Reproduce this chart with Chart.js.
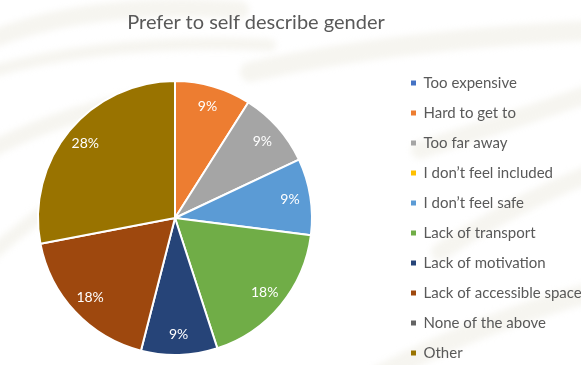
<!DOCTYPE html>
<html lang="en">
<head>
<meta charset="UTF-8">
<title>Prefer to self describe gender</title>
<script src="https://cdn.jsdelivr.net/npm/chart.js"></script>
<style>
  html, body { margin: 0; padding: 0; background: #fff; overflow: hidden; }
  .chart-box { position: relative; width: 581px; height: 365px; overflow: hidden; }
  /* canvas runs a little past the left and bottom edges so the pie sits where it should */
  .chart-box canvas { position: absolute; left: -46px; top: 0; }
  .chart-title {
    position: absolute; top: 9px; left: 0; width: 512px; z-index: 1;
    text-align: center; font-family: Lato, sans-serif; font-size: 20px; color: #595959;
  }
</style>
</head>
<body>
<div class="chart-box">
  <canvas id="reasonsPie" width="627" height="436"></canvas>
  <div class="chart-title">Prefer to self describe gender</div>
</div>

<script>
  const categories = [
    'Too expensive', 'Hard to get to', 'Too far away', 'I don’t feel included', 'I don’t feel safe',
    'Lack of transport', 'Lack of motivation', 'Lack of accessible spaces', 'None of the above', 'Other'
  ];
  const shares = [0, 9, 9, 0, 9, 18, 9, 18, 0, 28];
  const sliceColors = [
    '#4472C4', '#ED7D31', '#A5A5A5', '#FFC000', '#5B9BD5',
    '#70AD47', '#264478', '#9E480E', '#636363', '#997300'
  ];

  // faint, soft swirl pattern behind the chart
  const backdrop = {
    id: 'backdrop',
    beforeDraw(chart) {
      const ctx = chart.ctx;
      ctx.save();
      ctx.fillStyle = '#fff';
      ctx.fillRect(0, 0, chart.width, chart.height);
      ctx.translate(46, 0);
      ctx.filter = 'blur(3px)';
      ctx.strokeStyle = 'rgba(236, 232, 222, 0.45)';
      ctx.lineCap = 'round';
      const swirls = [
        [-10, 40, 90, 0, 240, 10, 18],
        [-10, 72, 110, 38, 270, 45, 12],
        [-10, 150, 70, 110, 160, 95, 16],
        [250, 72, 390, 40, 600, 30, 20],
        [420, 150, 520, 118, 600, 90, 18],
        [440, 252, 520, 200, 600, 170, 18],
        [380, 375, 480, 322, 600, 290, 20],
        [-10, 255, 20, 230, 40, 215, 14]
      ];
      swirls.forEach(([x0, y0, cx, cy, x1, y1, w]) => {
        ctx.lineWidth = w;
        ctx.beginPath();
        ctx.moveTo(x0, y0);
        ctx.quadraticCurveTo(cx, cy, x1, y1);
        ctx.stroke();
      });
      ctx.restore();
    }
  };

  // percentage text inside each slice
  const sliceLabels = {
    id: 'sliceLabels',
    afterDatasetsDraw(chart) {
      const ctx = chart.ctx;
      const meta = chart.getDatasetMeta(0);
      ctx.save();
      ctx.font = '14px Lato, sans-serif';
      ctx.fillStyle = '#fff';
      ctx.textAlign = 'center';
      ctx.textBaseline = 'middle';
      meta.data.forEach((arc, i) => {
        if (!shares[i]) return;
        const p = arc.getProps(['x', 'y', 'startAngle', 'endAngle', 'outerRadius'], true);
        const mid = (p.startAngle + p.endAngle) / 2;
        const r = p.outerRadius * 0.85;
        ctx.fillText(shares[i] + '%', p.x + Math.cos(mid) * r, p.y + Math.sin(mid) * r);
      });
      ctx.restore();
    }
  };

  new Chart(document.getElementById('reasonsPie'), {
    type: 'pie',
    data: {
      labels: categories,
      datasets: [{
        data: shares,
        backgroundColor: sliceColors,
        borderColor: '#fff',
        borderWidth: 2
      }]
    },
    options: {
      responsive: false,
      animation: false,
      radius: 137,
      plugins: {
        title: { display: false },
        tooltip: { enabled: false },
        legend: {
          position: 'right',
          maxWidth: 185,
          labels: {
            boxWidth: 5,
            boxHeight: 5,
            padding: 15,
            color: '#595959',
            font: { family: 'Lato, sans-serif', size: 15 },
            generateLabels(chart) {
              return Chart.overrides.pie.plugins.legend.labels.generateLabels(chart)
                .map(item => ({ ...item, lineWidth: 0 }));
            }
          }
        }
      }
    },
    plugins: [backdrop, sliceLabels]
  });
</script>
</body>
</html>
